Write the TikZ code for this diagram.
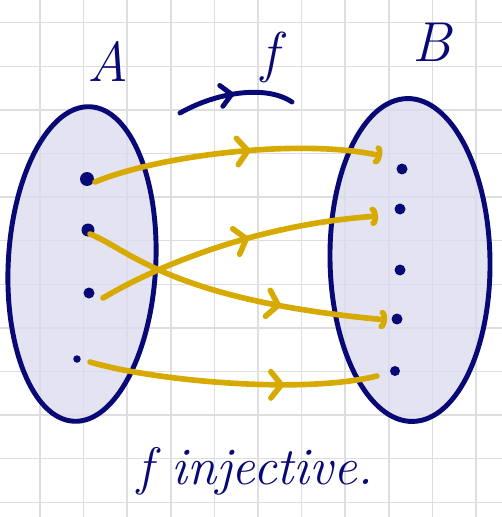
\documentclass[tikz,border=0pt]{standalone}
\usetikzlibrary{arrows.meta,shapes.geometric,decorations.markings,calc}
\definecolor{setnavy}{RGB}{8,8,118}
\definecolor{mapgold}{RGB}{214,170,0}
\definecolor{setfill}{RGB}{218,218,236}
\definecolor{gridgray}{RGB}{222,222,225}

\begin{document}
\begin{tikzpicture}[x=0.02cm,y=-0.02cm,
  grid/.style={draw=gridgray,line width=0.9pt},
  set/.style={ellipse,draw=setnavy,line width=2.8pt,fill=setfill,fill opacity=0.75,draw opacity=1,inner sep=0pt},
  elem/.style={circle,fill=setnavy,inner sep=0pt,minimum size=#1},
  map/.style={draw=mapgold,line width=3.2pt,line cap=round,postaction={decorate},
    decoration={markings,mark=at position #1 with {\arrow[mapgold]{Straight Barb[length=6pt,width=15pt,line cap=round]}}}},
  hooked/.style={-{Arc Barb[length=3pt,width=11pt,line cap=round]}},
  lbl/.style={text=setnavy,font=\fontsize{32}{36}\selectfont\itshape}]
\useasboundingbox (0,0) rectangle (502,517);
% grid paper
\foreach \i in {0,...,10} \draw[grid] (40+43.6*\i,0) -- (40+43.6*\i,517);
\foreach \j in {0,...,11} \draw[grid] (0,22.7+43.6*\j) -- (502,22.7+43.6*\j);
% the two sets
\node[set,minimum width=2.95cm,minimum height=6.3cm,rotate=-3](A) at (82,264){};
\node[set,minimum width=3.2cm,minimum height=6.46cm,rotate=1](B) at (410,260){};
\node[elem=0.28cm](a1) at (87,179){};
\node[elem=0.26cm](a2) at (88,230){};
\node[elem=0.22cm](a3) at (89,293){};
\node[elem=0.15cm](a4) at (77,359){};
\node[elem=0.22cm](b1) at (402,169){};
\node[elem=0.22cm](b2) at (400,209){};
\node[elem=0.22cm](b3) at (400,270){};
\node[elem=0.22cm](b4) at (397,319){};
\node[elem=0.2cm](b5) at (395,371){};
% the map f
\draw[map=0.55,hooked] ($(a1)+(8,3)$) .. controls (160,155) and (300,138) .. ($(b1)+(-20,-13)$);
\draw[map=0.66,hooked] ($(a2)+(2,4)$) .. controls (130,250) and (170,300) .. ($(b4)+(-10,1)$);
\draw[map=0.55,hooked] ($(a3)+(14,5)$) .. controls (150,270) and (250,225) .. ($(b2)+(-22,7)$);
\draw[map=0.68] ($(a4)+(13,3)$) .. controls (150,380) and (300,395) .. ($(b5)+(-18,5)$);
% labels
\node[lbl](labA) at (108,61){A};
\node[lbl](labB) at (432,42){B};
\node[lbl](labf) at (270,57){f};
\coordinate (fs) at (180,113);
\coordinate (fe) at (292,102);
\draw[draw=setnavy,line width=2.8pt,line cap=round,postaction={decorate},
  decoration={markings,mark=at position 0.5 with {\arrow[setnavy]{Straight Barb[length=6pt,width=12pt,line cap=round]}}}]
  (fs) .. controls (215,93) and (265,84) .. (fe);
\node[lbl,font=\fontsize{30}{34}\selectfont\itshape,anchor=base](caption) at (255,484){f injective.};
\end{tikzpicture}
\end{document}
